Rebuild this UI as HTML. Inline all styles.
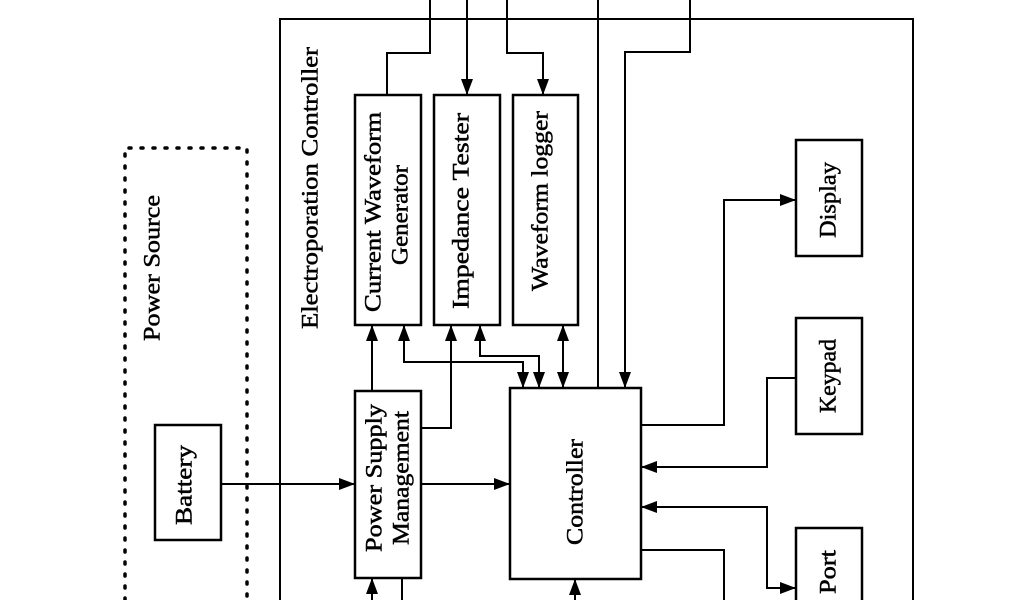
<!DOCTYPE html>
<html><head><style>body{margin:0;background:#fff}svg{display:block}</style></head>
<body>
<svg width="1024" height="600" viewBox="0 0 1024 600" xmlns="http://www.w3.org/2000/svg">
<defs>
<marker id="a" viewBox="0 0 16 12" refX="16" refY="6" markerWidth="16" markerHeight="12" markerUnits="userSpaceOnUse" orient="auto-start-reverse"><path d="M0,0L16,6L0,12z" fill="#000"/></marker>
</defs>
<g fill="none" stroke="#000" stroke-width="2">
<path d="M280,600V19H913V600"/>
<path d="M125,600V148H247V600" stroke-dasharray="2,10" stroke-width="3.5" stroke-linecap="round"/>
<g stroke-width="2.5">
<rect x="355" y="95" width="66" height="230"/>
<rect x="434" y="95" width="66" height="230"/>
<rect x="513" y="95" width="65" height="230"/>
<rect x="155" y="425" width="66" height="115"/>
<rect x="355" y="391" width="66" height="187"/>
<rect x="510" y="388" width="131" height="191"/>
<rect x="796" y="140" width="66" height="116"/>
<rect x="796" y="318" width="66" height="116"/>
<rect x="796" y="528" width="66" height="80"/>
</g>
<path d="M430,0V53H387V95"/>
<path d="M467,0V95" marker-end="url(#a)"/>
<path d="M507,0V53H543V95" marker-end="url(#a)"/>
<path d="M598,0V388"/>
<path d="M690,0V52H625V388" marker-end="url(#a)"/>
<path d="M221,484H355" marker-end="url(#a)"/>
<path d="M421,484H510" marker-end="url(#a)"/>
<path d="M372,391V325" marker-end="url(#a)"/>
<path d="M421,428H451V325" marker-end="url(#a)"/>
<path d="M523,388V362H404V325" marker-start="url(#a)" marker-end="url(#a)"/>
<path d="M539,388V356H480V325" marker-start="url(#a)" marker-end="url(#a)"/>
<path d="M563,388V325" marker-start="url(#a)" marker-end="url(#a)"/>
<path d="M372,600V578" marker-end="url(#a)"/>
<path d="M402,578V600"/>
<path d="M575,600V579" marker-end="url(#a)"/>
<path d="M641,425H724V200H796" marker-end="url(#a)"/>
<path d="M796,378H767V467H641" marker-end="url(#a)"/>
<path d="M641,507H767V588H796" marker-start="url(#a)" marker-end="url(#a)"/>
<path d="M641,550H724V600"/>
</g>
<g font-family="Liberation Serif, serif" font-size="23" fill="#000" stroke="#000" stroke-width="0.5" text-anchor="middle" dominant-baseline="central">
<text transform="translate(310,188) rotate(-90)" textLength="282" lengthAdjust="spacingAndGlyphs">Electroporation  Controller</text>
<text transform="translate(152,268) rotate(-90)" textLength="146" lengthAdjust="spacingAndGlyphs">Power  Source</text>
<text transform="translate(373,212) rotate(-90)" textLength="200" lengthAdjust="spacingAndGlyphs">Current  Waveform</text>
<text transform="translate(400,215) rotate(-90)" textLength="100" lengthAdjust="spacingAndGlyphs">Generator</text>
<text transform="translate(461,211) rotate(-90)" textLength="196" lengthAdjust="spacingAndGlyphs">Impedance  Tester</text>
<text transform="translate(540,201) rotate(-90)" textLength="180" lengthAdjust="spacingAndGlyphs">Waveform  logger</text>
<text transform="translate(184,485) rotate(-90)" textLength="80" lengthAdjust="spacingAndGlyphs">Battery</text>
<text transform="translate(374,478) rotate(-90)" textLength="148" lengthAdjust="spacingAndGlyphs">Power  Supply</text>
<text transform="translate(401,478) rotate(-90)" textLength="134" lengthAdjust="spacingAndGlyphs">Management</text>
<text transform="translate(575,492) rotate(-90)" textLength="106" lengthAdjust="spacingAndGlyphs">Controller</text>
<text transform="translate(828,200) rotate(-90)" textLength="76" lengthAdjust="spacingAndGlyphs">Display</text>
<text transform="translate(828,376) rotate(-90)" textLength="74" lengthAdjust="spacingAndGlyphs">Keypad</text>
<text transform="translate(828,572) rotate(-90)" textLength="44" lengthAdjust="spacingAndGlyphs">Port</text>
</g>
</svg>
</body></html>
